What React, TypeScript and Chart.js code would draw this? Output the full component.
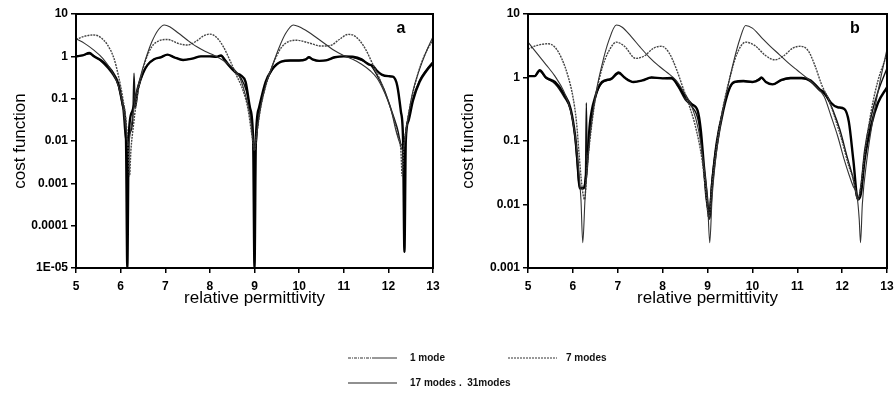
import React, { useEffect, useRef } from "react";
import { Chart, registerables } from "chart.js";
Chart.register(...registerables);

const xTicks = [5, 6, 7, 8, 9, 10, 11, 12, 13];
const yTicksA = [1e-5, 1e-4, 1e-3, 1e-2, 1e-1, 1, 10];
const yLabelsA = ["1E-05", "0.0001", "0.001", "0.01", "0.1", "1", "10"];
const yTicksB = [1e-3, 1e-2, 1e-1, 1, 10];
const yLabelsB = ["0.001", "0.01", "0.1", "1", "10"];
const seriesNames = ["1 mode", "7 modes", "17 modes", "31 modes"];

// Panel a
const a1mode: [number, number][] = [
  [5.0, 2.6], [5.2, 2.0], [5.4, 1.4], [5.6, 0.9], [5.8, 0.45], [5.95, 0.2], [6.05, 0.07], [6.12, 0.02],
  [6.17, 0.008], [6.23, 0.02], [6.33, 0.1], [6.45, 0.35], [6.55, 0.8], [6.7, 2.2], [6.85, 4.3], [6.98, 5.5],
  [7.1, 5.0], [7.3, 3.5], [7.5, 2.4], [7.7, 1.7], [7.9, 1.3], [8.1, 1.05], [8.3, 0.8], [8.5, 0.55],
  [8.65, 0.35], [8.8, 0.12], [8.9, 0.04], [8.97, 0.01], [9.0, 0.006], [9.04, 0.012], [9.12, 0.05],
  [9.25, 0.2], [9.4, 0.6], [9.55, 1.6], [9.7, 3.5], [9.87, 5.5], [10.0, 5.0], [10.2, 3.8], [10.4, 2.7],
  [10.6, 1.9], [10.8, 1.35], [11.0, 1.05], [11.2, 0.85], [11.4, 0.65], [11.6, 0.45], [11.75, 0.3],
  [11.9, 0.15], [12.05, 0.06], [12.18, 0.016], [12.27, 0.008], [12.32, 0.006], [12.37, 0.01], [12.43, 0.03],
  [12.55, 0.15], [12.7, 0.5], [12.85, 1.3], [13.0, 2.9],
];
const a7modes: [number, number][] = [
  [5.0, 2.5], [5.2, 3.0], [5.4, 3.2], [5.55, 2.8], [5.7, 1.9], [5.85, 0.9], [5.95, 0.35], [6.05, 0.1],
  [6.12, 0.03], [6.17, 0.006], [6.2, 0.0015], [6.23, 0.006], [6.28, 0.02], [6.35, 0.08], [6.45, 0.3],
  [6.55, 0.75], [6.7, 1.7], [6.85, 2.3], [7.05, 2.5], [7.3, 2.0], [7.5, 1.85], [7.7, 2.3], [7.85, 3.0],
  [8.0, 3.35], [8.15, 2.8], [8.3, 1.7], [8.45, 0.8], [8.6, 0.35], [8.75, 0.15], [8.85, 0.06], [8.95, 0.012],
  [9.0, 0.006], [9.05, 0.015], [9.15, 0.07], [9.3, 0.3], [9.45, 0.8], [9.6, 1.6], [9.75, 2.2], [9.95, 2.4],
  [10.2, 2.1], [10.5, 1.75], [10.7, 1.8], [10.9, 2.5], [11.1, 3.3], [11.2, 3.2], [11.35, 2.4], [11.5, 1.4],
  [11.65, 0.65], [11.8, 0.3], [11.95, 0.12], [12.1, 0.04], [12.2, 0.015], [12.28, 0.006], [12.31, 0.0015],
  [12.34, 0.006], [12.4, 0.02], [12.5, 0.08], [12.65, 0.35], [12.8, 1.0], [13.0, 2.5],
];
const a17modes: [number, number][] = [
  [5.0, 1.0], [5.15, 1.05], [5.3, 1.2], [5.4, 1.0], [5.6, 0.75], [5.8, 0.45], [5.95, 0.22], [6.05, 0.07],
  [6.12, 0.012], [6.15, 1e-5], [6.18, 0.012], [6.26, 0.05], [6.4, 0.2], [6.5, 0.4], [6.6, 0.62], [6.75, 0.85],
  [6.9, 0.95], [7.05, 1.1], [7.2, 0.95], [7.4, 0.82], [7.6, 0.88], [7.8, 1.0], [8.0, 1.0], [8.15, 0.98],
  [8.25, 1.05], [8.35, 0.75], [8.5, 0.5], [8.6, 0.4], [8.7, 0.35], [8.8, 0.25], [8.9, 0.06], [8.97, 0.01],
  [9.0, 1e-5], [9.03, 0.01], [9.1, 0.06], [9.25, 0.25], [9.4, 0.5], [9.5, 0.65], [9.6, 0.75], [9.8, 0.8],
  [10.0, 0.8], [10.15, 0.85], [10.22, 0.95], [10.3, 0.85], [10.45, 0.78], [10.6, 0.8], [10.8, 0.95],
  [11.0, 1.0], [11.2, 0.98], [11.4, 0.85], [11.55, 0.65], [11.65, 0.6], [11.75, 0.45], [11.85, 0.37],
  [12.0, 0.34], [12.1, 0.33], [12.2, 0.2], [12.28, 0.05], [12.33, 0.01], [12.36, 2.4e-5], [12.39, 0.01],
  [12.45, 0.03], [12.55, 0.09], [12.7, 0.25], [12.85, 0.45], [13.0, 0.7],
];
const a31modes: [number, number][] = [
  [5.0, 1.0], [5.15, 1.05], [5.3, 1.15], [5.45, 0.95], [5.6, 0.7], [5.8, 0.4], [5.95, 0.2], [6.05, 0.06],
  [6.12, 0.01], [6.2, 0.015], [6.27, 0.03], [6.3, 0.4], [6.33, 0.06], [6.4, 0.18], [6.5, 0.4], [6.6, 0.62],
  [6.75, 0.85], [6.9, 0.95], [7.05, 1.1], [7.2, 0.95], [7.4, 0.82], [7.6, 0.88], [7.8, 1.0], [8.0, 1.0],
  [8.15, 0.98], [8.25, 1.02], [8.4, 0.7], [8.55, 0.45], [8.7, 0.3], [8.82, 0.15], [8.92, 0.04], [8.98, 0.008],
  [9.02, 0.006], [9.08, 0.03], [9.2, 0.15], [9.35, 0.4], [9.5, 0.65], [9.6, 0.75], [9.8, 0.8], [10.0, 0.8],
  [10.15, 0.85], [10.22, 0.95], [10.3, 0.85], [10.45, 0.78], [10.6, 0.8], [10.8, 0.95], [11.0, 1.0],
  [11.2, 0.95], [11.4, 0.8], [11.6, 0.62], [11.75, 0.35], [11.9, 0.17], [12.05, 0.06], [12.2, 0.02],
  [12.3, 0.008], [12.36, 0.01], [12.43, 0.03], [12.55, 0.1], [12.7, 0.27], [12.85, 0.48], [13.0, 0.75],
];

// Panel b
const b1mode: [number, number][] = [
  [5.0, 3.6], [5.2, 2.4], [5.4, 1.6], [5.6, 1.05], [5.8, 0.6], [5.95, 0.3], [6.05, 0.12], [6.12, 0.04],
  [6.18, 0.012], [6.22, 0.0025], [6.27, 0.012], [6.33, 0.05], [6.42, 0.2], [6.52, 0.6], [6.65, 1.6],
  [6.8, 3.8], [6.97, 6.7], [7.1, 6.2], [7.3, 4.4], [7.5, 3.0], [7.7, 2.1], [7.9, 1.55], [8.1, 1.2],
  [8.3, 0.9], [8.5, 0.55], [8.65, 0.35], [8.8, 0.15], [8.92, 0.04], [9.0, 0.012], [9.05, 0.0025],
  [9.1, 0.012], [9.18, 0.05], [9.3, 0.2], [9.45, 0.7], [9.6, 2.0], [9.72, 4.0], [9.85, 6.6], [10.0, 6.0],
  [10.2, 4.3], [10.4, 3.1], [10.6, 2.3], [10.8, 1.7], [11.0, 1.3], [11.2, 1.0], [11.4, 0.75], [11.6, 0.5],
  [11.75, 0.25], [11.9, 0.12], [12.05, 0.05], [12.15, 0.03], [12.25, 0.019], [12.33, 0.014], [12.38, 0.006],
  [12.41, 0.0025], [12.45, 0.01], [12.55, 0.05], [12.7, 0.25], [12.85, 0.9], [13.0, 2.8],
];
const b7modes: [number, number][] = [
  [5.0, 2.8], [5.2, 3.2], [5.45, 3.4], [5.6, 3.0], [5.75, 2.0], [5.9, 1.0], [6.0, 0.5], [6.08, 0.2],
  [6.14, 0.06], [6.2, 0.02], [6.26, 0.012], [6.32, 0.04], [6.42, 0.18], [6.52, 0.55], [6.65, 1.4],
  [6.8, 2.6], [6.97, 3.6], [7.15, 3.1], [7.4, 2.0], [7.6, 2.2], [7.8, 2.9], [7.98, 3.1], [8.15, 2.4],
  [8.3, 1.4], [8.45, 0.7], [8.6, 0.35], [8.75, 0.15], [8.88, 0.05], [8.98, 0.012], [9.03, 0.006],
  [9.1, 0.02], [9.2, 0.08], [9.35, 0.35], [9.5, 1.0], [9.65, 2.3], [9.85, 3.6], [10.05, 3.2], [10.3, 2.2],
  [10.5, 1.9], [10.7, 2.2], [10.9, 2.9], [11.08, 3.1], [11.25, 2.6], [11.4, 1.5], [11.55, 0.75],
  [11.7, 0.45], [11.85, 0.22], [12.0, 0.1], [12.15, 0.04], [12.25, 0.025], [12.35, 0.012], [12.42, 0.02],
  [12.5, 0.06], [12.65, 0.3], [12.8, 0.9], [13.0, 2.3],
];
const b17modes: [number, number][] = [
  [5.0, 1.05], [5.15, 1.05], [5.26, 1.3], [5.4, 1.0], [5.6, 0.85], [5.8, 0.55], [5.95, 0.32], [6.05, 0.12],
  [6.1, 0.05], [6.15, 0.018], [6.25, 0.018], [6.3, 0.03], [6.38, 0.19], [6.5, 0.5], [6.65, 0.85],
  [6.85, 0.95], [7.02, 1.2], [7.15, 1.0], [7.35, 0.85], [7.55, 0.9], [7.75, 1.0], [8.0, 0.97], [8.2, 0.98],
  [8.35, 0.75], [8.5, 0.5], [8.65, 0.38], [8.78, 0.3], [8.85, 0.15], [8.92, 0.04], [8.98, 0.015],
  [9.04, 0.006], [9.1, 0.02], [9.2, 0.08], [9.35, 0.3], [9.5, 0.7], [9.6, 0.85], [9.8, 0.88], [10.0, 0.85],
  [10.15, 0.92], [10.2, 1.0], [10.3, 0.85], [10.45, 0.78], [10.65, 0.92], [10.85, 0.98], [11.1, 0.98],
  [11.3, 0.9], [11.5, 0.65], [11.6, 0.58], [11.75, 0.4], [11.9, 0.34], [12.05, 0.32], [12.15, 0.2],
  [12.25, 0.05], [12.35, 0.012], [12.42, 0.015], [12.5, 0.05], [12.65, 0.18], [12.8, 0.4], [13.0, 0.7],
];
const b31modes: [number, number][] = [
  [5.0, 1.05], [5.15, 1.05], [5.26, 1.25], [5.4, 0.98], [5.6, 0.8], [5.8, 0.5], [5.95, 0.3], [6.05, 0.11],
  [6.1, 0.04], [6.15, 0.018], [6.22, 0.018], [6.28, 0.03], [6.3, 0.4], [6.32, 0.05], [6.38, 0.17],
  [6.5, 0.48], [6.65, 0.82], [6.85, 0.93], [7.02, 1.15], [7.15, 1.0], [7.35, 0.85], [7.55, 0.9],
  [7.75, 1.0], [8.0, 0.97], [8.2, 0.95], [8.35, 0.7], [8.5, 0.45], [8.65, 0.35], [8.8, 0.2], [8.9, 0.05],
  [8.97, 0.012], [9.04, 0.008], [9.1, 0.025], [9.2, 0.1], [9.35, 0.32], [9.5, 0.7], [9.6, 0.83],
  [9.8, 0.86], [10.0, 0.85], [10.2, 0.98], [10.3, 0.85], [10.45, 0.78], [10.65, 0.9], [10.85, 0.96],
  [11.1, 0.96], [11.3, 0.85], [11.5, 0.62], [11.65, 0.5], [11.8, 0.3], [11.95, 0.15], [12.1, 0.06],
  [12.25, 0.025], [12.35, 0.012], [12.42, 0.02], [12.5, 0.07], [12.65, 0.25], [12.8, 0.6], [13.0, 1.4],
];

const FONT = "'Liberation Sans', Arial, sans-serif";
const seriesStyles = [
  { borderColor: "#333", borderWidth: 1.1, borderDash: [] as number[] },
  { borderColor: "#444", borderWidth: 1.4, borderDash: [2, 1] },
  { borderColor: "#000", borderWidth: 2.4, borderDash: [] as number[] },
  { borderColor: "#111", borderWidth: 1.4, borderDash: [] as number[] },
];

function makeConfig(
  series: [number, number][][],
  yTicks: number[],
  yLabels: string[],
  yAxisWidth: number,
  padRight: number,
  letter: string
): any {
  const framePlugin = {
    id: "frame",
    afterDraw(chart: any) {
      const { ctx, chartArea } = chart;
      ctx.save();
      ctx.strokeStyle = "#000";
      ctx.lineWidth = 2;
      ctx.strokeRect(chartArea.left, chartArea.top, chartArea.right - chartArea.left, chartArea.bottom - chartArea.top);
      ctx.fillStyle = "#000";
      ctx.font = `bold 16px ${FONT}`;
      ctx.textAlign = "center";
      ctx.textBaseline = "middle";
      ctx.fillText(letter, chartArea.right - 32, chartArea.top + 15);
      ctx.restore();
    },
  };
  return {
    type: "line",
    data: {
      datasets: series.map((s, i) => ({
        label: seriesNames[i],
        data: s.map(([x, y]) => ({ x, y })),
        ...seriesStyles[i],
        pointRadius: 0,
        fill: false,
        cubicInterpolationMode: "monotone",
      })),
    },
    options: {
      animation: false,
      responsive: false,
      events: [],
      layout: { padding: { left: 0, right: padRight, top: 14, bottom: 0 } },
      plugins: { legend: { display: false }, tooltip: { enabled: false } },
      scales: {
        x: {
          type: "linear",
          min: 5,
          max: 13,
          afterBuildTicks: (s: any) => {
            s.ticks = xTicks.map((v) => ({ value: v }));
          },
          afterFit: (s: any) => {
            s.height = 42;
            s.paddingLeft = 0;
            s.paddingRight = 0;
          },
          ticks: { color: "#000", font: { family: FONT, size: 12, weight: "bold" }, padding: 6, maxRotation: 0 },
          grid: { drawOnChartArea: false, drawTicks: true, tickLength: 5, color: "#000", lineWidth: 1.5 },
          border: { color: "#000", width: 2 },
          title: {
            display: true,
            text: "relative permittivity",
            color: "#000",
            font: { family: FONT, size: 17 },
            padding: { top: 0, bottom: 1 },
          },
        },
        y: {
          type: "logarithmic",
          min: yTicks[0],
          max: yTicks[yTicks.length - 1],
          afterBuildTicks: (s: any) => {
            s.ticks = yTicks.map((v) => ({ value: v }));
          },
          afterFit: (s: any) => {
            s.width = yAxisWidth;
          },
          ticks: {
            color: "#000",
            font: { family: FONT, size: 12, weight: "bold" },
            padding: 3,
            callback: (_v: any, idx: number) => yLabels[idx],
          },
          grid: { drawOnChartArea: false, drawTicks: true, tickLength: 5, color: "#000", lineWidth: 1.5 },
          border: { color: "#000", width: 2 },
          title: {
            display: true,
            text: "cost function",
            color: "#000",
            font: { family: FONT, size: 17 },
            padding: { top: 10, bottom: 0 },
          },
        },
      },
    },
    plugins: [framePlugin],
  };
}

function Legend() {
  const txt: React.CSSProperties = {
    position: "absolute",
    fontFamily: FONT,
    fontSize: 10,
    fontWeight: "bold",
    color: "#111",
    lineHeight: "12px",
    whiteSpace: "pre",
  };
  return (
    <>
      <svg style={{ position: "absolute", left: 0, top: 0 }} width={896} height={396}>
        <line x1={348} y1={358} x2={372} y2={358} stroke="#333" strokeWidth={1} strokeDasharray="3 1 1 1" />
        <line x1={372} y1={358} x2={397} y2={358} stroke="#333" strokeWidth={1} />
        <line x1={508} y1={358} x2={557} y2={358} stroke="#333" strokeWidth={1} strokeDasharray="2 1" />
        <line x1={348} y1={383} x2={397} y2={383} stroke="#222" strokeWidth={1.2} />
      </svg>
      <div style={{ ...txt, left: 410, top: 352 }}>{seriesNames[0]}</div>
      <div style={{ ...txt, left: 566, top: 352 }}>{seriesNames[1]}</div>
      <div style={{ ...txt, left: 410, top: 377 }}>{`${seriesNames[2]} .  ${seriesNames[3].replace(" ", "")}`}</div>
    </>
  );
}

export default function App() {
  const refA = useRef<HTMLCanvasElement>(null);
  const refB = useRef<HTMLCanvasElement>(null);
  useEffect(() => {
    const ca = new Chart(refA.current!, makeConfig([a1mode, a7modes, a17modes, a31modes], yTicksA, yLabelsA, 76, 15, "a"));
    const cb = new Chart(refB.current!, makeConfig([b1mode, b7modes, b17modes, b31modes], yTicksB, yLabelsB, 80, 9, "b"));
    return () => {
      ca.destroy();
      cb.destroy();
    };
  }, []);
  return (
    <div style={{ position: "absolute", left: 0, top: 0, width: 896, height: 396, background: "#fff" }}>
      <canvas ref={refA} width={448} height={310} style={{ position: "absolute", left: 0, top: 0, width: 448, height: 310 }} />
      <canvas ref={refB} width={448} height={310} style={{ position: "absolute", left: 448, top: 0, width: 448, height: 310 }} />
      <Legend />
    </div>
  );
}
